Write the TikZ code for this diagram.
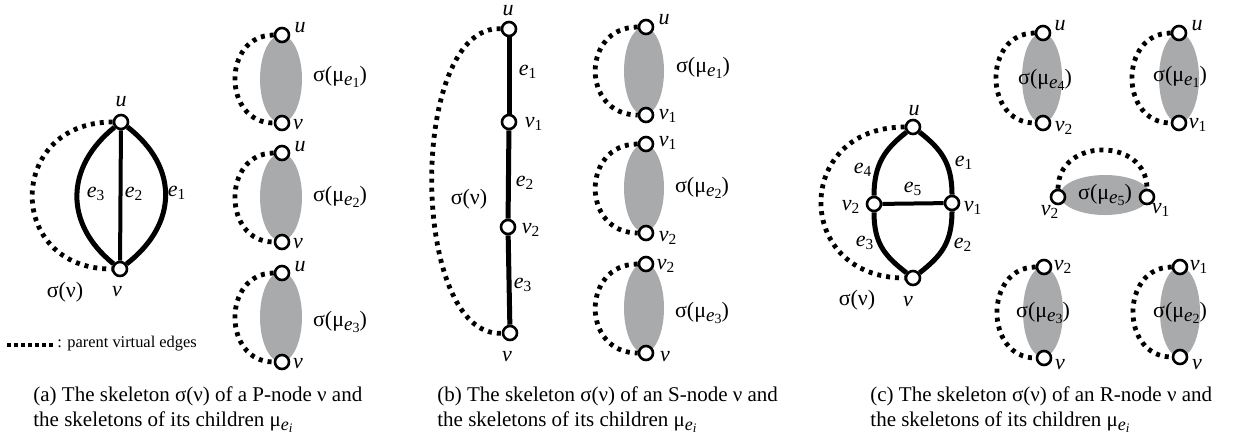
\documentclass[tikz,border=0pt]{standalone}
\usepackage{fontspec}
\setmainfont{Liberation Serif}
\usetikzlibrary{positioning}
\definecolor{cinza}{RGB}{169,170,172}
\newcommand{\sub}[2]{\textit{#1}\textsubscript{#2}}
\newcommand{\smu}[1]{σ(μ\raisebox{-0.35ex}{\fontsize{9.5}{9.5}\selectfont\textit{e}\raisebox{-0.3ex}{\fontsize{7}{7}\selectfont #1}})}
\newcommand{\mui}{μ\raisebox{-0.35ex}{\fontsize{9}{9}\selectfont\textit{e}\raisebox{-0.3ex}{\fontsize{6.5}{6.5}\selectfont\textit{i}}}}

\begin{document}
\begin{tikzpicture}[
        x=0.5pt, y=-0.5pt, % 1 unidade = 1 pixel da figura
        vert/.style={circle, draw, fill=white, line width=1.3pt, inner sep=0pt, minimum size=7pt},
        aresta/.style={line width=2.5pt},
        virtual/.style={line width=2.4pt, dash pattern=on 2pt off 2.5pt},
        comp/.style={fill=cinza},
        rot/.style={inner sep=0pt, font=\fontsize{11}{13}\selectfont},
        legenda/.style={inner sep=0pt, align=left, anchor=west, font=\fontsize{10.5}{12.5}\selectfont}
        ]
        \useasboundingbox (0,0) rectangle (1235,441);

        % ---------- (a) P-node ----------
        \fill[comp] (281,79) ellipse (21 and 44);
        \fill[comp] (281,197) ellipse (21 and 44);
        \fill[comp] (281,317) ellipse (21 and 45);

        \node[vert] (au) at (121,122) {};
        \node[vert] (av) at (120,269) {};
        \node[vert] (a1u) at (282,35) {};
        \node[vert] (a1v) at (282,123) {};
        \node[vert] (a2u) at (282,153) {};
        \node[vert] (a2v) at (282,242) {};
        \node[vert] (a3u) at (282,273) {};
        \node[vert] (a3v) at (282,362) {};

        \draw[aresta] (au) .. controls +(58,45) and +(58,-45) .. (av);
        \draw[aresta, line width=2pt] (au) -- (av);
        \draw[aresta] (au) .. controls +(-56,45) and +(-56,-45) .. (av);
        \draw[virtual] (au) .. controls +(-115,0) and +(-115,0) .. (av);
        \draw[virtual] (a1u) .. controls +(-60,0) and +(-60,0) .. (a1v);
        \draw[virtual] (a2u) .. controls +(-60,0) and +(-60,0) .. (a2v);
        \draw[virtual] (a3u) .. controls +(-60,0) and +(-60,0) .. (a3v);

        \node[rot] (lau) at (121,102) {\textit{u}};
        \node[rot] (lav) at (117,292) {\textit{v}};
        \node[rot] (lae3) at (96,194) {\sub{e}{3}};
        \node[rot] (lae2) at (134,194) {\sub{e}{2}};
        \node[rot] (lae1) at (177,193) {\sub{e}{1}};
        \node[rot] (lasig) at (65,292) {σ(ν)};
        \node[rot] at (300,28) {\textit{u}};
        \node[rot] at (298,125) {\textit{v}};
        \node[rot] at (300,147) {\textit{u}};
        \node[rot] at (298,244) {\textit{v}};
        \node[rot] at (300,267) {\textit{u}};
        \node[rot] at (298,364) {\textit{v}};
        \node[rot] at (340,77) {\smu{1}};
        \node[rot] at (340,197) {\smu{2}};
        \node[rot] at (340,322) {\smu{3}};

        % legenda das arestas virtuais
        \coordinate (leg1) at (7,345);
        \coordinate (leg2) at (53,345);
        \draw[virtual, dash pattern=on 2pt off 1.5pt] (leg1) -- (leg2);
        \node[inner sep=0pt, anchor=west, font=\fontsize{8.2}{9}\selectfont] (legtxt) at (57,344) {: parent virtual edges};

        \node[legenda] (capa) at (33,410) {(a) The skeleton σ(ν) of a P-node ν and\\the skeletons of its children \mui};

        % ---------- (b) S-node ----------
        \fill[comp] (644,71) ellipse (20 and 44);
        \fill[comp] (644,188) ellipse (20 and 44);
        \fill[comp] (644,308) ellipse (20 and 45);

        \node[vert] (bu) at (509,29) {};
        \node[vert] (bv1) at (509,122) {};
        \node[vert] (bv2) at (508,227) {};
        \node[vert] (bv) at (510,333) {};
        \node[vert] (b1u) at (646,27) {};
        \node[vert] (b1v) at (646,115) {};
        \node[vert] (b2u) at (646,144) {};
        \node[vert] (b2v) at (646,233) {};
        \node[vert] (b3u) at (646,264) {};
        \node[vert] (b3v) at (646,353) {};

        \draw[aresta] (bu) -- (bv1);
        \draw[aresta] (bv1) -- (bv2);
        \draw[aresta] (bv2) -- (bv);
        \draw[virtual] (bu) .. controls +(-101,-4) and +(-101,4) .. (bv);
        \draw[virtual] (b1u) .. controls +(-65,0) and +(-65,0) .. (b1v);
        \draw[virtual] (b2u) .. controls +(-65,0) and +(-65,0) .. (b2v);
        \draw[virtual] (b3u) .. controls +(-65,0) and +(-65,0) .. (b3v);

        \node[rot] at (508,11) {\textit{u}};
        \node[rot] at (534,124) {\sub{v}{1}};
        \node[rot] at (531,230) {\sub{v}{2}};
        \node[rot] at (507,357) {\textit{v}};
        \node[rot] at (528,72) {\sub{e}{1}};
        \node[rot] at (525,183) {\sub{e}{2}};
        \node[rot] at (523,285) {\sub{e}{3}};
        \node[rot] at (469,199) {σ(ν)};
        \node[rot] at (664,20) {\textit{u}};
        \node[rot] at (668,116) {\sub{v}{1}};
        \node[rot] at (668,143) {\sub{v}{1}};
        \node[rot] at (668,238) {\sub{v}{2}};
        \node[rot] at (666,266) {\sub{v}{2}};
        \node[rot] at (665,357) {\textit{v}};
        \node[rot] at (703,68) {\smu{1}};
        \node[rot] at (702,188) {\smu{2}};
        \node[rot] at (702,313) {\smu{3}};

        \node[legenda] (capb) at (437,410) {(b) The skeleton σ(ν) of an S-node ν and\\the skeletons of its children \mui};

        % ---------- (c) R-node ----------
        \fill[comp] (1042,78) ellipse (20 and 45);
        \fill[comp] (1179,78) ellipse (20 and 45);
        \fill[comp] (1105,195) ellipse (45 and 20);
        \fill[comp] (1043,312) ellipse (20 and 45);
        \fill[comp] (1180,312) ellipse (20 and 45);

        \node[vert] (cu) at (913,127) {};
        \node[vert] (cv2) at (874,204) {};
        \node[vert] (cv1) at (952,203) {};
        \node[vert] (cv) at (913,278) {};
        \node[vert] (c4u) at (1043,33) {};
        \node[vert] (c4v) at (1043,123) {};
        \node[vert] (c1u) at (1179,33) {};
        \node[vert] (c1v) at (1179,123) {};
        \node[vert] (c5a) at (1058,197) {};
        \node[vert] (c5b) at (1147,197) {};
        \node[vert] (c3u) at (1044,267) {};
        \node[vert] (c3v) at (1044,358) {};
        \node[vert] (c2u) at (1180,267) {};
        \node[vert] (c2v) at (1180,357) {};

        \draw[aresta] (cu) .. controls +(-28,22) and +(0,-40) .. (cv2);
        \draw[aresta] (cu) .. controls +(28,22) and +(0,-40) .. (cv1);
        \draw[aresta] (cv2) .. controls +(0,40) and +(-28,-22) .. (cv);
        \draw[aresta] (cv1) .. controls +(0,40) and +(28,-22) .. (cv);
        \draw[aresta, line width=2pt] (cv2) -- (cv1);
        \draw[virtual] (cu) .. controls +(-120,0) and +(-120,0) .. (cv);
        \draw[virtual] (c4u) .. controls +(-60,0) and +(-60,0) .. (c4v);
        \draw[virtual] (c1u) .. controls +(-60,0) and +(-60,0) .. (c1v);
        \draw[virtual] (c5a) .. controls +(0,-60) and +(0,-60) .. (c5b);
        \draw[virtual] (c3u) .. controls +(-60,0) and +(-60,0) .. (c3v);
        \draw[virtual] (c2u) .. controls +(-60,0) and +(-60,0) .. (c2v);

        \node[rot] at (914,111) {\textit{u}};
        \node[rot] at (851,207) {\sub{v}{2}};
        \node[rot] at (973,208) {\sub{v}{1}};
        \node[rot] at (908,302) {\textit{v}};
        \node[rot] at (863,170) {\sub{e}{4}};
        \node[rot] at (964,163) {\sub{e}{1}};
        \node[rot] at (913,189) {\sub{e}{5}};
        \node[rot] at (865,243) {\sub{e}{3}};
        \node[rot] at (963,245) {\sub{e}{2}};
        \node[rot] at (857,300) {σ(ν)};
        \node[rot] at (1060,26) {\textit{u}};
        \node[rot] at (1064,128) {\sub{v}{2}};
        \node[rot] at (1197,26) {\textit{u}};
        \node[rot] at (1198,125) {\sub{v}{1}};
        \node[rot] at (1050,212) {\sub{v}{2}};
        \node[rot] at (1161,210) {\sub{v}{1}};
        \node[rot] at (1063,267) {\sub{v}{2}};
        \node[rot] at (1060,365) {\textit{v}};
        \node[rot] at (1199,267) {\sub{v}{1}};
        \node[rot] at (1197,365) {\textit{v}};
        \node[rot] at (1045,80) {\smu{4}};
        \node[rot] at (1180,77) {\smu{1}};
        \node[rot] at (1105,195) {\smu{5}};
        \node[rot] at (1043,313) {\smu{3}};
        \node[rot] at (1180,313) {\smu{2}};

        \node[legenda] (capc) at (870,410) {(c) The skeleton σ(ν) of an R-node ν and\\the skeletons of its children \mui};

    \end{tikzpicture}
\end{document}
